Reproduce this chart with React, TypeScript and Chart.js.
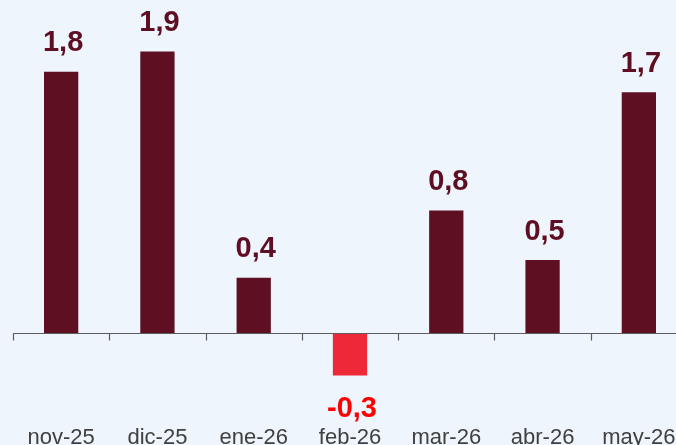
import React, { useEffect, useRef } from "react";
import { Chart, registerables } from "chart.js";

Chart.register(...registerables);

const categories = ["nov-25", "dic-25", "ene-26", "feb-26", "mar-26", "abr-26", "may-26"];
const values = [1.79, 1.93, 0.38, -0.29, 0.84, 0.5, 1.65];
const labelTexts = ["1,8", "1,9", "0,4", "-0,3", "0,8", "0,5", "1,7"];

const POS_COLOR = "#5E0F22";
const NEG_COLOR = "#EE2838";
const NEG_LABEL = "#FF0000";
const BG = "#EFF5FC";

const zeroAxisPlugin = {
  id: "zeroAxis",
  afterDatasetsDraw(chart: any) {
    const { ctx, chartArea, scales } = chart;
    const x = scales.x;
    const y = scales.y;
    const y0 = Math.round(y.getPixelForValue(0)) + 0.5;
    ctx.save();
    ctx.strokeStyle = "#5C5C5C";
    ctx.lineWidth = 1.2;
    ctx.beginPath();
    ctx.moveTo(chartArea.left, y0);
    ctx.lineTo(chartArea.right, y0);
    const n = categories.length;
    const half = (x.getPixelForValue(1) - x.getPixelForValue(0)) / 2;
    for (let i = 0; i <= n; i++) {
      const px = Math.round(x.getPixelForValue(i) - half) + 0.5;
      ctx.moveTo(px, y0);
      ctx.lineTo(px, y0 + 7);
    }
    ctx.stroke();
    ctx.restore();
  },
};

const valueLabelPlugin = {
  id: "valueLabels",
  afterDatasetsDraw(chart: any) {
    const { ctx } = chart;
    const meta = chart.getDatasetMeta(0);
    ctx.save();
    ctx.font = "bold 29px 'Liberation Sans', Arial, sans-serif";
    ctx.textAlign = "center";
    ctx.textBaseline = "alphabetic";
    meta.data.forEach((bar: any, i: number) => {
      const v = values[i];
      const cx = bar.x + 2;
      if (v >= 0) {
        ctx.fillStyle = POS_COLOR;
        ctx.fillText(labelTexts[i], cx, bar.y - 20.5);
      } else {
        ctx.fillStyle = NEG_LABEL;
        ctx.fillText(labelTexts[i], cx, bar.y + 41.5);
      }
    });
    ctx.restore();
  },
};

export default function App() {
  const ref = useRef<HTMLCanvasElement | null>(null);
  useEffect(() => {
    if (!ref.current) return;
    const chart = new Chart(ref.current, {
      type: "bar",
      data: {
        labels: categories,
        datasets: [
          {
            data: values,
            backgroundColor: values.map((v) => (v >= 0 ? POS_COLOR : NEG_COLOR)),
            borderWidth: 0,
            categoryPercentage: 1,
            barPercentage: 0.356,
          },
        ],
      },
      options: {
        responsive: false,
        animation: false,
        layout: { padding: { left: 13, right: 3, top: 12, bottom: 0 } },
        plugins: { legend: { display: false }, tooltip: { enabled: false } },
        scales: {
          x: {
            offset: true,
            grid: { display: false, drawTicks: false, tickLength: 0 },
            border: { display: false },
            ticks: {
              padding: 0,
              color: "#404040",
              font: { family: "'Liberation Sans', Arial, sans-serif", size: 22 },
              maxRotation: 0,
              autoSkip: false,
            },
          },
          y: {
            display: false,
            min: -0.627,
            max: 2.2,
          },
        },
      },
      plugins: [zeroAxisPlugin, valueLabelPlugin],
    });
    return () => chart.destroy();
  }, []);
  return (
    <div
      style={{
        position: "fixed",
        left: 0,
        top: 0,
        width: 676,
        height: 445,
        overflow: "hidden",
        background: BG,
      }}
    >
      <canvas ref={ref} width={690} height={451} style={{ display: "block" }} />
    </div>
  );
}
